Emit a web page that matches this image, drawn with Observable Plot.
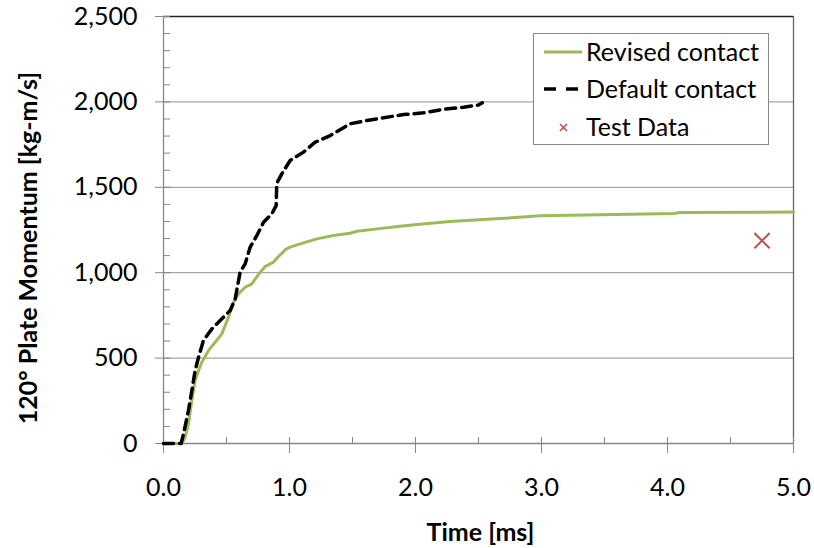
<!DOCTYPE html>
<html>
<head>
<meta charset="utf-8">
<script src="https://cdn.jsdelivr.net/npm/d3@7"></script>
<script src="https://cdn.jsdelivr.net/npm/@observablehq/plot@0.6"></script>
<style>
  html, body { margin: 0; padding: 0; background: #fff; }
  #wrap { position: relative; width: 814px; height: 548px; font-family: Lato, "Open Sans", sans-serif; }
  #legend { position: absolute; left: 533px; top: 33px; width: 236px; height: 112px; border: 1px solid #888; background: #fff; box-sizing: border-box; }
  #legend svg { position: absolute; left: 0; top: 0; }
</style>
</head>
<body>
<div id="wrap"></div>
<script>
// Revised contact (green)
const revisedT = [0, 0.146, 0.172, 0.198, 0.225, 0.251, 0.278, 0.304, 0.357, 0.41, 0.463, 0.489, 0.516, 0.556, 0.595, 0.648, 0.701, 0.753, 0.807, 0.873, 0.913, 0.966, 1.005, 1.085, 1.217, 1.349, 1.481, 1.534, 1.746, 1.878, 2.011, 2.275, 2.672, 2.99, 4.05, 4.1, 5.0];
const revisedM = [0, 0, 37, 115, 252, 369, 427, 476, 545, 593, 642, 691, 740, 827, 876, 915, 935, 989, 1036, 1062, 1095, 1134, 1150, 1169, 1198, 1218, 1231, 1243, 1261, 1272, 1282, 1300, 1317, 1333, 1346, 1352, 1355];
// Default contact (black dashed)
const defaultT = [0, 0.14, 0.159, 0.198, 0.225, 0.251, 0.278, 0.317, 0.384, 0.463, 0.529, 0.569, 0.608, 0.648, 0.688, 0.741, 0.794, 0.86, 0.894, 0.899, 0.939, 1.005, 1.111, 1.204, 1.323, 1.481, 1.614, 1.746, 1.905, 2.063, 2.222, 2.381, 2.5, 2.53];
const defaultM = [0, 0, 57, 193, 310, 427, 505, 603, 671, 730, 779, 847, 1003, 1052, 1150, 1218, 1296, 1345, 1393, 1524, 1579, 1657, 1706, 1764, 1803, 1872, 1891, 1907, 1926, 1936, 1957, 1969, 1982, 1995];
// Test data
const testT = [4.75];
const testM = [1188];

// Axis ticks
const xMajor = [0, 1, 2, 3, 4, 5];
const xMinor = [0, 0.5, 1, 1.5, 2, 2.5, 3, 3.5, 4, 4.5, 5];
const yMajor = [0, 500, 1000, 1500, 2000, 2500];
const yGrid = [500, 1000, 1500, 2000];
const yMinor = d3.range(0, 2501, 100);

const revised = revisedT.map((t, i) => ({t, m: revisedM[i]}));
const deflt = defaultT.map((t, i) => ({t, m: defaultM[i]}));
const test = testT.map((t, i) => ({t, m: testM[i]}));

const W = 814, H = 548;
const mL = 163, mR = 21, mT = 16, mB = 105;
const plotW = W - mL - mR, plotH = H - mT - mB;
const axisColor = "#868686";

const chart = Plot.plot({
  width: W, height: H,
  marginLeft: mL, marginRight: mR, marginTop: mT, marginBottom: mB,
  style: {fontFamily: "Lato, 'Open Sans', sans-serif", fontSize: "25px", color: "black", background: "white"},
  x: {domain: [0, 5]},
  y: {domain: [0, 2500]},
  marks: [
    Plot.ruleY(yGrid, {y: d => d, stroke: "#a6a6a6", strokeWidth: 1.3}),
    Plot.ruleY([2500], {y: d => d, stroke: "#222", strokeWidth: 1.3}),
    Plot.ruleX([5], {x: d => d, stroke: "#666", strokeWidth: 1.3}),
    Plot.axisX({ticks: xMajor, tickFormat: d => d.toFixed(1), tickSize: 10, tickPadding: 25, stroke: axisColor, fill: "black", fontSize: 25, label: null}),
    Plot.tickX(xMinor, {x: d => d, insetTop: plotH - 6, stroke: axisColor}),
    Plot.axisY({ticks: yMajor, tickFormat: d3.format(","), tickSize: 8, tickPadding: 18, stroke: axisColor, fill: "black", fontSize: 25, label: null}),
    Plot.tickY(yMinor, {y: d => d, insetRight: plotW - 7, stroke: axisColor}),
    Plot.ruleX([0], {x: d => d, stroke: axisColor, strokeWidth: 1.3}),
    Plot.ruleY([0], {y: d => d, stroke: axisColor, strokeWidth: 1.3}),
    Plot.line(revised, {x: "t", y: "m", stroke: "#9bbb59", strokeWidth: 3}),
    Plot.line(deflt, {x: "t", y: "m", stroke: "black", strokeWidth: 3.5, strokeDasharray: "10,6"}),
    Plot.dot(test, {x: "t", y: "m", symbol: "times", r: 7, stroke: "#c0504d", strokeWidth: 2}),
    Plot.text(["120° Plate Momentum [kg-m/s]"], {frameAnchor: "left", textAnchor: "middle", lineAnchor: "middle", rotate: -90, dx: -135, dy: 18, fontWeight: "bold", fontSize: 25, fill: "black"}),
    Plot.text(["Time [ms]"], {frameAnchor: "bottom", textAnchor: "middle", lineAnchor: "middle", dx: 2, dy: 89, fontWeight: "bold", fontSize: 25, fill: "black"})
  ]
});

const wrap = document.getElementById("wrap");
wrap.appendChild(chart);

// Legend overlay
const legendItems = ["Revised contact", "Default contact", "Test Data"];
const legend = document.createElement("div");
legend.id = "legend";
legend.innerHTML = `<svg width="236" height="112" xmlns="http://www.w3.org/2000/svg" font-family="Lato, 'Open Sans', sans-serif" font-size="25">
  <line x1="10" x2="48" y1="18" y2="18" stroke="#9bbb59" stroke-width="3"/>
  <line x1="10" x2="48" y1="55" y2="55" stroke="black" stroke-width="3.5" stroke-dasharray="12,10"/>
  <path d="M26,90 L33,97 M33,90 L26,97" stroke="#c0504d" stroke-width="1.6"/>
  <text x="52" y="18" dy="0.35em">${legendItems[0]}</text>
  <text x="52" y="55" dy="0.35em">${legendItems[1]}</text>
  <text x="52" y="93" dy="0.35em">${legendItems[2]}</text>
</svg>`;
wrap.appendChild(legend);
</script>
</body>
</html>
